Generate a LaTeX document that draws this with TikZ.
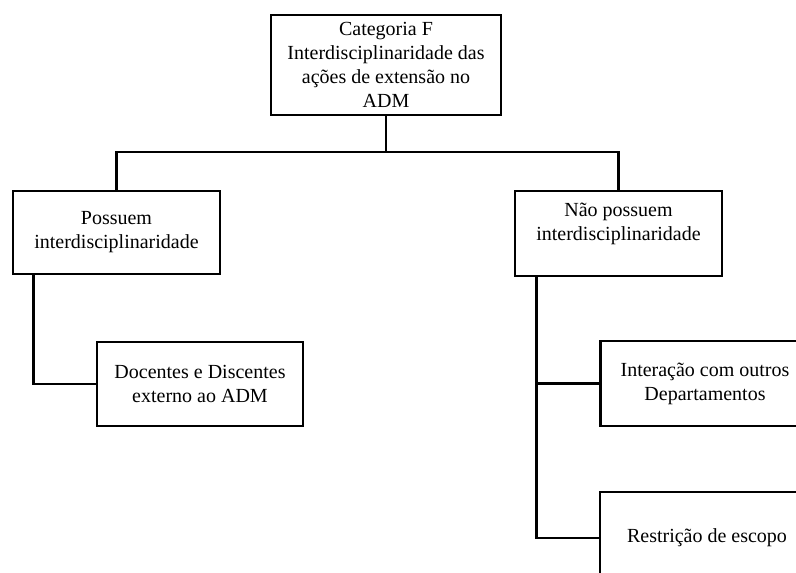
\documentclass[tikz,border=0pt]{standalone}
\usepackage{fontspec}
\setmainfont{Liberation Serif}
\usetikzlibrary{positioning}

\tikzset{
    catbox/.style={draw, line width=2pt, align=center, inner sep=2pt,
        font=\fontsize{15}{18}\selectfont},
}

\begin{document}
\begin{tikzpicture}[x=0.75pt, y=-0.75pt, line width=2pt]

    % page frame (the reference is cut off at the right and bottom)
    \clip (0,0) rectangle (796,572);

    %========================
    % Top: category
    %========================
    \node[catbox, minimum width=172.5pt, minimum height=75pt] (cat) at (386,65)
        {Categoria F\\Interdisciplinaridade das\\ações de extensão no\\ADM};

    %========================
    % Second level
    %========================
    \node[catbox, minimum width=155.25pt, minimum height=62.25pt] (pos) at (116.5,232.5)
        {Possuem\\interdisciplinaridade};
    \node[catbox, minimum width=155.25pt, minimum height=63.75pt, text depth=18pt] (nao) at (618.5,233.5)
        {Não possuem\\interdisciplinaridade};

    %========================
    % Third level
    %========================
    \node[catbox, minimum width=154.5pt, minimum height=63pt] (doc) at (200,384)
        {Docentes e Discentes\\externo ao ADM};
    \node[catbox, minimum width=156.75pt, minimum height=63.75pt] (inter) at (705,383.5)
        {Interação com outros\\Departamentos};
    \node[catbox, minimum width=160.5pt, minimum height=69pt] (restr) at (707,538)
        {Restrição de escopo};

    %========================
    % Connectors
    %========================
    \coordinate (split) at (386,152);
    \draw (cat.south) -- (split);
    \draw (pos.north) |- (split) -| (nao.north);

    % left branch
    \coordinate (posleg) at ([xshift=16.5pt]pos.south west);
    \draw (posleg) |- (doc.west);

    % right branch
    \coordinate (naoleg) at ([xshift=17pt]nao.south west);
    \draw (naoleg) |- (restr.west);
    \draw (inter.west) -- (inter.west -| naoleg);

\end{tikzpicture}
\end{document}
